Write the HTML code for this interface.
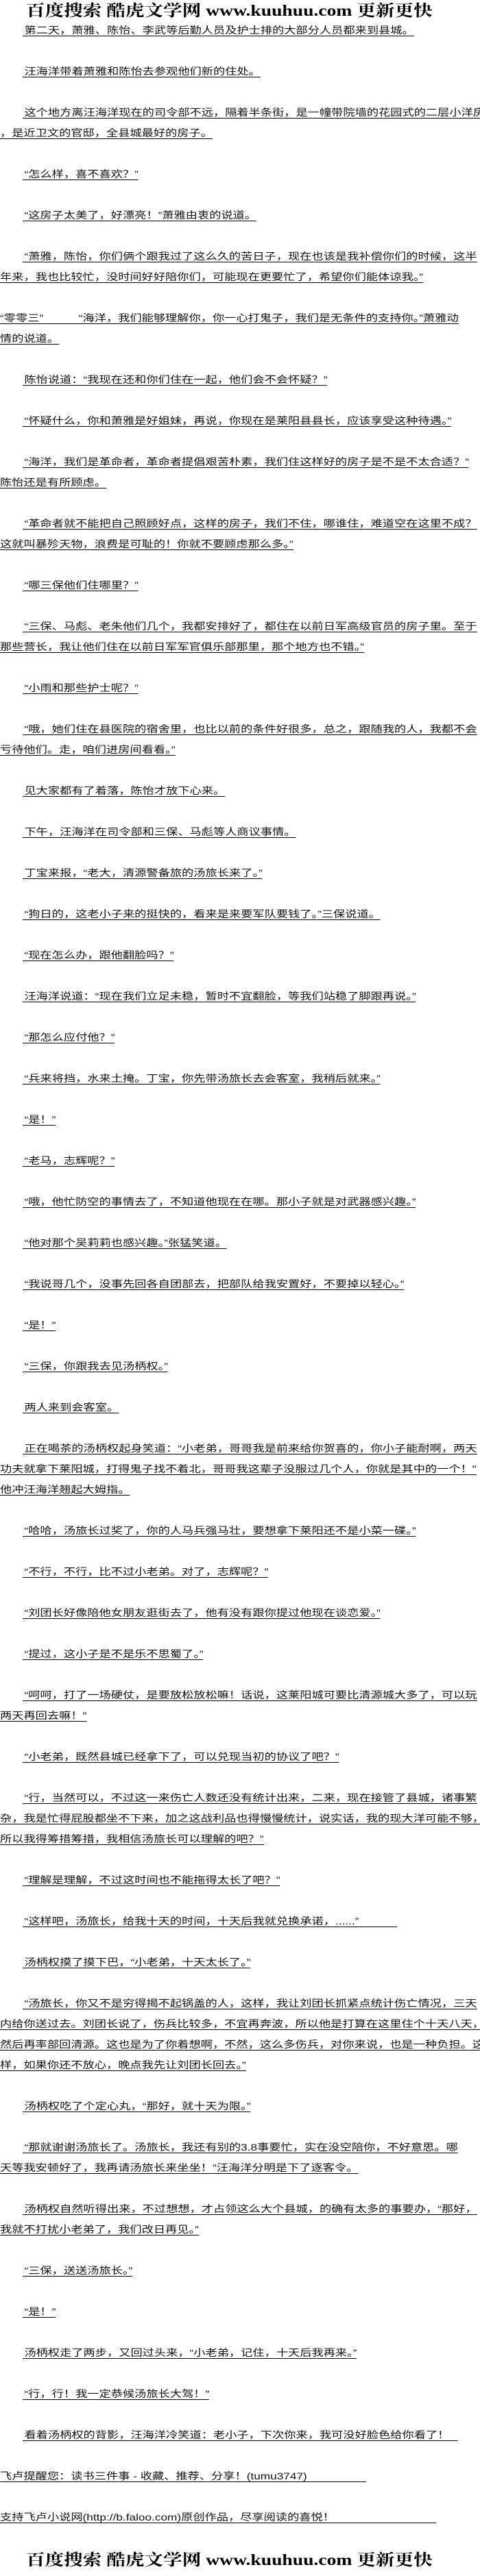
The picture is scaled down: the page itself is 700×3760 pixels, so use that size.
<!DOCTYPE html>
<html><head><meta charset="utf-8">
<style>
html,body{margin:0;padding:0;background:#fff;}
body{width:700px;height:3760px;position:relative;overflow:hidden;font-family:"Liberation Sans","Noto Sans CJK SC",sans-serif;color:#111;}
.l{position:absolute;left:0;white-space:nowrap;transform:scaleX(1.23);transform-origin:0 0;font-size:14px;}
.l span{display:inline-block;line-height:16px;border-bottom:1px solid #000;}
.i{left:33px;}
.i span{padding-left:2px;}
.logo{position:absolute;left:38px;white-space:nowrap;font-family:"Liberation Serif","Noto Serif CJK SC",serif;font-weight:bold;font-size:23px;transform:scaleX(1.2);transform-origin:0 0;color:#000;line-height:28px;}
</style></head><body>
<div class="logo" style="top:2px">百度搜索 酷虎文学网 www.kuuhuu.com 更新更快</div>

<div class="l i" style="top:36px"><span>第二天，萧雅、陈怡、李武等后勤人员及护士排的大部分人员都来到县城。</span></div>
<div class="l i" style="top:96px"><span>汪海洋带着萧雅和陈怡去参观他们新的住处。</span></div>
<div class="l i" style="top:156px"><span>这个地方离汪海洋现在的司令部不远，隔着半条街，是一幢带院墙的花园式的二层小洋房</span></div>
<div class="l" style="top:186px"><span>，是近卫文的官邸，全县城最好的房子。</span></div>
<div class="l i" style="top:246px"><span>“怎么样，喜不喜欢？”</span></div>
<div class="l i" style="top:306px"><span>“这房子太美了，好漂亮！”萧雅由衷的说道。</span></div>
<div class="l i" style="top:366px"><span>“萧雅，陈怡，你们俩个跟我过了这么久的苦日子，现在也该是我补偿你们的时候，这半</span></div>
<div class="l" style="top:396px"><span>年来，我也比较忙，没时间好好陪你们，可能现在更要忙了，希望你们能体谅我。”</span></div>
<div class="l" style="top:456px"><span>“零零三”　　　“海洋，我们能够理解你，你一心打鬼子，我们是无条件的支持你。”萧雅动</span></div>
<div class="l" style="top:486px"><span>情的说道。</span></div>
<div class="l i" style="top:546px"><span>陈怡说道：“我现在还和你们住在一起，他们会不会怀疑？”</span></div>
<div class="l i" style="top:606px"><span>“怀疑什么，你和萧雅是好姐妹，再说，你现在是莱阳县县长，应该享受这种待遇。”</span></div>
<div class="l i" style="top:666px"><span>“海洋，我们是革命者，革命者提倡艰苦朴素，我们住这样好的房子是不是不太合适？”</span></div>
<div class="l" style="top:696px"><span>陈怡还是有所顾虑。</span></div>
<div class="l i" style="top:756px"><span>“革命者就不能把自己照顾好点，这样的房子，我们不住，哪谁住，难道空在这里不成？</span></div>
<div class="l" style="top:786px"><span>这就叫暴殄天物，浪费是可耻的！你就不要顾虑那么多。”</span></div>
<div class="l i" style="top:846px"><span>“哪三保他们住哪里？”</span></div>
<div class="l i" style="top:906px"><span>“三保、马彪、老朱他们几个，我都安排好了，都住在以前日军高级官员的房子里。至于</span></div>
<div class="l" style="top:936px"><span>那些营长，我让他们住在以前日军军官俱乐部那里，那个地方也不错。”</span></div>
<div class="l i" style="top:996px"><span>“小雨和那些护士呢？”</span></div>
<div class="l i" style="top:1056px"><span>“哦，她们住在县医院的宿舍里，也比以前的条件好很多，总之，跟随我的人，我都不会</span></div>
<div class="l" style="top:1086px"><span>亏待他们。走，咱们进房间看看。”</span></div>
<div class="l i" style="top:1146px"><span>见大家都有了着落，陈怡才放下心来。</span></div>
<div class="l i" style="top:1206px"><span>下午，汪海洋在司令部和三保、马彪等人商议事情。</span></div>
<div class="l i" style="top:1266px"><span>丁宝来报，“老大，清源警备旅的汤旅长来了。”</span></div>
<div class="l i" style="top:1326px"><span>“狗日的，这老小子来的挺快的，看来是来要军队要钱了。”三保说道。</span></div>
<div class="l i" style="top:1386px"><span>“现在怎么办，跟他翻脸吗？”</span></div>
<div class="l i" style="top:1446px"><span>汪海洋说道：“现在我们立足未稳，暂时不宜翻脸，等我们站稳了脚跟再说。”</span></div>
<div class="l i" style="top:1506px"><span>“那怎么应付他？”</span></div>
<div class="l i" style="top:1566px"><span>“兵来将挡，水来土掩。丁宝，你先带汤旅长去会客室，我稍后就来。”</span></div>
<div class="l i" style="top:1626px"><span>“是！”</span></div>
<div class="l i" style="top:1686px"><span>“老马，志辉呢？”</span></div>
<div class="l i" style="top:1746px"><span>“哦，他忙防空的事情去了，不知道他现在在哪。那小子就是对武器感兴趣。”</span></div>
<div class="l i" style="top:1806px"><span>“他对那个吴莉莉也感兴趣。”张猛笑道。</span></div>
<div class="l i" style="top:1866px"><span>“我说哥几个，没事先回各自团部去，把部队给我安置好，不要掉以轻心。”</span></div>
<div class="l i" style="top:1926px"><span>“是！”</span></div>
<div class="l i" style="top:1986px"><span>“三保，你跟我去见汤柄权。”</span></div>
<div class="l i" style="top:2046px"><span>两人来到会客室。</span></div>
<div class="l i" style="top:2106px"><span>正在喝茶的汤柄权起身笑道：“小老弟，哥哥我是前来给你贺喜的，你小子能耐啊，两天</span></div>
<div class="l" style="top:2136px"><span>功夫就拿下莱阳城，打得鬼子找不着北，哥哥我这辈子没服过几个人，你就是其中的一个！”</span></div>
<div class="l" style="top:2166px"><span>他冲汪海洋翘起大姆指。</span></div>
<div class="l i" style="top:2226px"><span>“哈哈，汤旅长过奖了，你的人马兵强马壮，要想拿下莱阳还不是小菜一碟。”</span></div>
<div class="l i" style="top:2286px"><span>“不行，不行，比不过小老弟。对了，志辉呢？”</span></div>
<div class="l i" style="top:2346px"><span>“刘团长好像陪他女朋友逛街去了，他有没有跟你提过他现在谈恋爱。”</span></div>
<div class="l i" style="top:2406px"><span>“提过，这小子是不是乐不思蜀了。”</span></div>
<div class="l i" style="top:2466px"><span>“呵呵，打了一场硬仗，是要放松放松嘛！话说，这莱阳城可要比清源城大多了，可以玩</span></div>
<div class="l" style="top:2496px"><span>两天再回去嘛！”</span></div>
<div class="l i" style="top:2556px"><span>“小老弟，既然县城已经拿下了，可以兑现当初的协议了吧？”</span></div>
<div class="l i" style="top:2616px"><span>“行，当然可以，不过这一来伤亡人数还没有统计出来，二来，现在接管了县城，诸事繁</span></div>
<div class="l" style="top:2646px"><span>杂，我是忙得屁股都坐不下来，加之这战利品也得慢慢统计，说实话，我的现大洋可能不够，</span></div>
<div class="l" style="top:2676px"><span>所以我得筹措筹措，我相信汤旅长可以理解的吧？”</span></div>
<div class="l i" style="top:2736px"><span>“理解是理解，不过这时间也不能拖得太长了吧？”</span></div>
<div class="l i" style="top:2796px"><span style="padding-right:45px">“这样吧，汤旅长，给我十天的时间，十天后我就兑换承诺，......”</span></div>
<div class="l i" style="top:2856px"><span>汤柄权摸了摸下巴，“小老弟，十天太长了。”</span></div>
<div class="l i" style="top:2916px"><span>“汤旅长，你又不是穷得揭不起锅盖的人，这样，我让刘团长抓紧点统计伤亡情况，三天</span></div>
<div class="l" style="top:2946px"><span>内给你送过去。刘团长说了，伤兵比较多，不宜再奔波，所以他是打算在这里住个十天八天，</span></div>
<div class="l" style="top:2976px"><span>然后再率部回清源。这也是为了你着想啊，不然，这么多伤兵，对你来说，也是一种负担。这</span></div>
<div class="l" style="top:3006px"><span>样，如果你还不放心，晚点我先让刘团长回去。”</span></div>
<div class="l i" style="top:3066px"><span>汤柄权吃了个定心丸，“那好，就十天为限。”</span></div>
<div class="l i" style="top:3126px"><span>“那就谢谢汤旅长了。汤旅长，我还有别的3.8事要忙，实在没空陪你，不好意思。哪</span></div>
<div class="l" style="top:3156px"><span>天等我安顿好了，我再请汤旅长来坐坐！”汪海洋分明是下了逐客令。</span></div>
<div class="l i" style="top:3216px"><span>汤柄权自然听得出来，不过想想，才占领这么大个县城，的确有太多的事要办，“那好，</span></div>
<div class="l" style="top:3246px"><span>我就不打扰小老弟了，我们改日再见。”</span></div>
<div class="l i" style="top:3306px"><span>“三保，送送汤旅长。”</span></div>
<div class="l i" style="top:3366px"><span>“是！”</span></div>
<div class="l i" style="top:3426px"><span>汤柄权走了两步，又回过头来，“小老弟，记住，十天后我再来。”</span></div>
<div class="l i" style="top:3486px"><span>“行，行！我一定恭候汤旅长大驾！”</span></div>
<div class="l i" style="top:3546px"><span style="padding-right:10px">看着汤柄权的背影，汪海洋冷笑道：老小子，下次你来，我可没好脸色给你看了！</span></div>
<div class="l" style="top:3606px"><span style="padding-right:70px">飞卢提醒您：读书三件事 - 收藏、推荐、分享！(tumu3747)</span></div>
<div class="l" style="top:3666px"><span style="padding-right:120px">支持飞卢小说网(http://b.faloo.com)原创作品，尽享阅读的喜悦！</span></div>

<div class="logo" style="top:3723px">百度搜索 酷虎文学网 www.kuuhuu.com 更新更快</div>
</body></html>
